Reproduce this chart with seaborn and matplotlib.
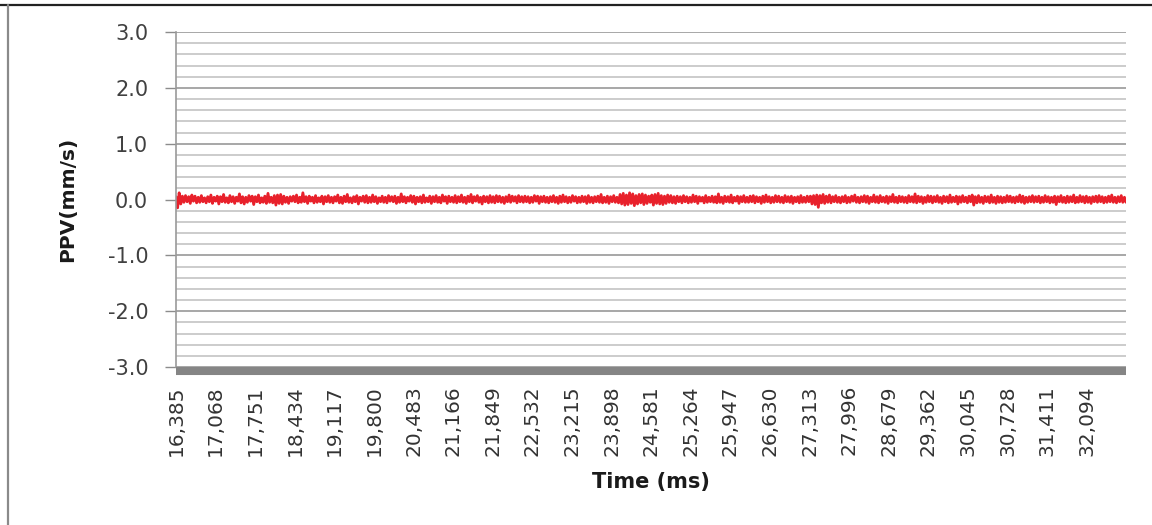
import numpy as np
import pandas as pd
import seaborn as sns
import matplotlib
matplotlib.use("Agg")
import matplotlib.pyplot as plt
from matplotlib.lines import Line2D
from matplotlib.ticker import MultipleLocator, FixedLocator, FormatStrFormatter

# Recording window (ms)
time_start_ms = 16385
time_end_ms = 32768

# Tick positions on the time axis (ms)
time_ticks = [16385, 17068, 17751, 18434, 19117, 19800, 20483, 21166,
              21849, 22532, 23215, 23898, 24581, 25264, 25947, 26630,
              27313, 27996, 28679, 29362, 30045, 30728, 31411, 32094]
time_tick_labels = [f"{t:,}" for t in time_ticks]

# Peak particle velocity trace (mm/s)
ppv = [
    0.05, -0.15, 0.12, -0.08, 0.06, -0.05, 0.07, -0.04, 0.05, -0.07, 0.08, -0.03, 0.06, -0.06, 0.04, -0.05, 0.07, -0.04, 0.03, -0.06,
    0.05, -0.04, 0.08, -0.07, 0.04, -0.03, 0.06, -0.08, 0.05, -0.04, 0.09, -0.05, 0.03, -0.06, 0.07, -0.04, 0.05, -0.07, 0.04, -0.03,
    0.10, -0.06, 0.05, -0.08, 0.04, -0.05, 0.07, -0.03, 0.06, -0.09, 0.05, -0.04, 0.08, -0.06, 0.03, -0.05, 0.06, -0.07, 0.11, -0.05,
    0.04, -0.06, 0.07, -0.10, 0.08, -0.07, 0.09, -0.08, 0.06, -0.05, 0.04, -0.07, 0.05, -0.03, 0.06, -0.04, 0.08, -0.06, 0.04, -0.05,
    0.12, -0.04, 0.05, -0.07, 0.06, -0.03, 0.04, -0.06, 0.07, -0.05, 0.03, -0.04, 0.06, -0.08, 0.05, -0.04, 0.07, -0.05, 0.04, -0.06,
    0.05, -0.03, 0.08, -0.06, 0.04, -0.07, 0.06, -0.04, 0.09, -0.05, 0.03, -0.06, 0.05, -0.04, 0.07, -0.08, 0.04, -0.03, 0.06, -0.05,
    0.07, -0.06, 0.04, -0.05, 0.08, -0.04, 0.05, -0.07, 0.03, -0.04, 0.06, -0.05, 0.04, -0.06, 0.07, -0.03, 0.05, -0.04, 0.06, -0.07,
    0.04, -0.05, 0.10, -0.04, 0.05, -0.06, 0.04, -0.03, 0.07, -0.05, 0.06, -0.08, 0.04, -0.04, 0.05, -0.06, 0.08, -0.05, 0.03, -0.04,
    0.06, -0.07, 0.05, -0.04, 0.07, -0.05, 0.04, -0.06, 0.08, -0.03, 0.05, -0.07, 0.06, -0.04, 0.04, -0.05, 0.07, -0.06, 0.05, -0.04,
    0.08, -0.05, 0.04, -0.07, 0.06, -0.04, 0.09, -0.06, 0.05, -0.03, 0.07, -0.05, 0.04, -0.08, 0.06, -0.04, 0.05, -0.06, 0.07, -0.05,
    0.05, -0.06, 0.07, -0.04, 0.06, -0.05, 0.04, -0.07, 0.05, -0.04, 0.08, -0.05, 0.06, -0.03, 0.05, -0.06, 0.07, -0.04, 0.05, -0.05,
    0.06, -0.04, 0.05, -0.06, 0.04, -0.05, 0.07, -0.03, 0.06, -0.07, 0.05, -0.04, 0.06, -0.05, 0.04, -0.06, 0.05, -0.04, 0.07, -0.05,
    0.04, -0.07, 0.06, -0.05, 0.08, -0.04, 0.05, -0.06, 0.04, -0.05, 0.07, -0.03, 0.05, -0.06, 0.04, -0.05, 0.06, -0.04, 0.05, -0.07,
    0.07, -0.05, 0.04, -0.06, 0.05, -0.04, 0.06, -0.05, 0.09, -0.06, 0.04, -0.05, 0.06, -0.07, 0.05, -0.04, 0.07, -0.05, 0.04, -0.06,
    0.09, -0.08, 0.11, -0.10, 0.08, -0.09, 0.12, -0.07, 0.10, -0.11, 0.07, -0.08, 0.09, -0.06, 0.10, -0.09, 0.08, -0.07, 0.06, -0.05,
    0.08, -0.10, 0.09, -0.07, 0.11, -0.08, 0.07, -0.09, 0.06, -0.07, 0.08, -0.05, 0.07, -0.06, 0.05, -0.07, 0.06, -0.04, 0.05, -0.06,
    0.07, -0.04, 0.05, -0.06, 0.04, -0.05, 0.08, -0.04, 0.06, -0.07, 0.05, -0.03, 0.04, -0.06, 0.07, -0.05, 0.04, -0.04, 0.06, -0.05,
    0.05, -0.06, 0.10, -0.05, 0.04, -0.07, 0.06, -0.04, 0.05, -0.05, 0.08, -0.06, 0.04, -0.03, 0.06, -0.07, 0.05, -0.04, 0.07, -0.05,
    0.04, -0.05, 0.06, -0.04, 0.07, -0.06, 0.05, -0.04, 0.04, -0.07, 0.06, -0.05, 0.08, -0.04, 0.05, -0.06, 0.04, -0.05, 0.07, -0.04,
    0.06, -0.05, 0.04, -0.06, 0.07, -0.04, 0.05, -0.05, 0.06, -0.07, 0.04, -0.04, 0.05, -0.06, 0.07, -0.05, 0.04, -0.05, 0.06, -0.04,
    0.06, -0.08, 0.07, -0.09, 0.08, -0.14, 0.07, -0.06, 0.09, -0.07, 0.06, -0.05, 0.08, -0.06, 0.05, -0.04, 0.07, -0.05, 0.04, -0.06,
    0.05, -0.04, 0.07, -0.06, 0.04, -0.05, 0.06, -0.03, 0.08, -0.05, 0.04, -0.06, 0.05, -0.04, 0.07, -0.05, 0.06, -0.07, 0.04, -0.04,
    0.08, -0.05, 0.05, -0.06, 0.07, -0.04, 0.04, -0.05, 0.06, -0.07, 0.05, -0.04, 0.09, -0.05, 0.04, -0.06, 0.06, -0.04, 0.05, -0.05,
    0.04, -0.06, 0.07, -0.04, 0.05, -0.05, 0.10, -0.06, 0.06, -0.04, 0.05, -0.07, 0.04, -0.05, 0.07, -0.04, 0.06, -0.06, 0.05, -0.04,
    0.07, -0.05, 0.04, -0.07, 0.06, -0.04, 0.05, -0.06, 0.08, -0.05, 0.04, -0.04, 0.06, -0.08, 0.05, -0.05, 0.07, -0.04, 0.04, -0.06,
    0.06, -0.04, 0.08, -0.10, 0.05, -0.06, 0.07, -0.05, 0.04, -0.07, 0.06, -0.04, 0.05, -0.06, 0.08, -0.05, 0.04, -0.07, 0.06, -0.05,
    0.05, -0.06, 0.04, -0.05, 0.07, -0.04, 0.06, -0.05, 0.04, -0.06, 0.05, -0.04, 0.08, -0.05, 0.06, -0.07, 0.04, -0.05, 0.05, -0.04,
    0.07, -0.05, 0.05, -0.04, 0.06, -0.06, 0.04, -0.05, 0.07, -0.04, 0.05, -0.06, 0.04, -0.05, 0.06, -0.09, 0.05, -0.04, 0.07, -0.05,
    0.04, -0.06, 0.06, -0.05, 0.05, -0.04, 0.08, -0.06, 0.04, -0.05, 0.07, -0.04, 0.05, -0.06, 0.06, -0.05, 0.04, -0.07, 0.05, -0.04,
    0.06, -0.05, 0.07, -0.04, 0.05, -0.06, 0.04, -0.05, 0.06, -0.04, 0.08, -0.05, 0.04, -0.06, 0.05, -0.04, 0.07, -0.05, 0.04, -0.05,
]

# Samples are evenly spaced across the recording window
time_ms = np.linspace(time_start_ms, time_end_ms, len(ppv))
df = pd.DataFrame({"Time (ms)": time_ms, "PPV(mm/s)": ppv})

sns.set_theme(style="white")
plt.rcParams["font.family"] = ["DejaVu Sans"]
plt.rcParams["axes.unicode_minus"] = False

fig = plt.figure(figsize=(11.52, 5.25), dpi=100)
ax = fig.add_axes([176 / 1152, 1 - 367 / 525, 950 / 1152, 335 / 525])

# Horizontal gridlines every 0.2 mm/s, slightly darker on whole numbers
ax.yaxis.set_major_locator(MultipleLocator(1.0))
ax.yaxis.set_minor_locator(MultipleLocator(0.2))
ax.grid(axis="y", which="minor", color="#c4c4c4", linewidth=1.2)
ax.grid(axis="y", which="major", color="#a0a0a0", linewidth=1.3)
ax.grid(axis="x", visible=False)
ax.set_axisbelow(True)

sns.lineplot(data=df, x="Time (ms)", y="PPV(mm/s)", ax=ax, color="#e8212b",
             linewidth=2.0, estimator=None, sort=False)

ax.set_xlim(time_start_ms, time_end_ms)
ax.set_ylim(-3.0, 3.0)

ax.xaxis.set_major_locator(FixedLocator(time_ticks))
ax.set_xticklabels(time_tick_labels)
ax.tick_params(axis="x", length=0, pad=10, labelrotation=90, labelsize=14.5,
               labelcolor="#333333")
ax.tick_params(axis="y", which="major", length=8, width=1.0, color="#8c8c8c",
               labelsize=15, labelcolor="#404040", pad=12, left=True)
ax.tick_params(axis="y", which="minor", length=0)
ax.yaxis.set_major_formatter(FormatStrFormatter("%.1f"))
for lbl in ax.get_xticklabels():
    lbl.set_fontfamily("Liberation Sans")

for side in ["top", "right"]:
    ax.spines[side].set_visible(False)
ax.spines["left"].set_color("#9a9a9a")
ax.spines["left"].set_linewidth(1.2)
ax.spines["bottom"].set_color("#858585")
ax.spines["bottom"].set_linewidth(5.8)
ax.spines["bottom"].set_position(("outward", 3))
ax.spines["bottom"].set_capstyle("butt")

ax.set_xlabel("Time (ms)", fontsize=15, fontweight="bold", color="#1a1a1a",
              labelpad=12)
ax.set_ylabel("PPV(mm/s)", fontsize=14.5, fontweight="bold", color="#1a1a1a",
              labelpad=22)

# Outer frame lines along the top and left edges
fig.add_artist(Line2D([0, 1], [1 - 5 / 525, 1 - 5 / 525], transform=fig.transFigure,
                      color="#222222", linewidth=1.6))
fig.add_artist(Line2D([8 / 1152, 8 / 1152], [0, 1 - 5 / 525], transform=fig.transFigure,
                      color="#8a8a8a", linewidth=1.6))

fig.savefig("out.png", dpi=100)
